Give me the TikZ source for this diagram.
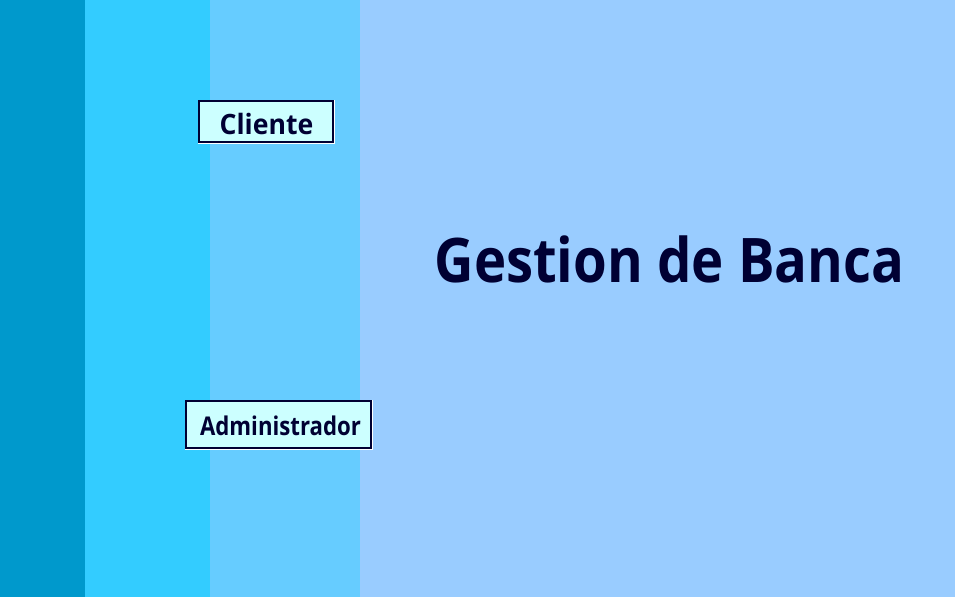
\documentclass[tikz,border=0pt]{standalone}
\usepackage{fontspec}
\usepackage{graphicx}
\setmainfont{Open Sans}
\definecolor{bandA}{HTML}{0099CC}
\definecolor{bandB}{HTML}{33CCFF}
\definecolor{bandC}{HTML}{66CCFF}
\definecolor{bandD}{HTML}{99CCFF}
\definecolor{btnfill}{HTML}{CCFFFF}
\definecolor{navy}{HTML}{000033}
\begin{document}
\begin{tikzpicture}[
  x=1pt, y=-1pt,
  button/.style={draw=navy, line width=2pt, fill=btnfill, text=navy, inner sep=0pt, outer sep=0pt, align=center, text depth=0pt},
  title/.style={text=navy, font=\bfseries\fontsize{61.5}{70}\selectfont, inner sep=0pt, anchor=base}
]
  \useasboundingbox (0,0) rectangle (955,597);
  % background bands
  \fill[bandA] (0,0) rectangle (85,597);
  \fill[bandB] (85,0) rectangle (210,597);
  \fill[bandC] (210,0) rectangle (360,597);
  \fill[bandD] (360,0) rectangle (955,597);
  % buttons
  \node[button, minimum width=134pt, minimum height=41pt, text height=25.6pt, font=\bfseries\fontsize{28}{32}\selectfont] (cliente) at (266,121.5) {\hspace{1pt}\scalebox{0.95}[1]{Cliente}};
  \node[button, minimum width=185pt, minimum height=47pt, text height=22.4pt, font=\bfseries\fontsize{25.8}{30}\selectfont] (admin) at (278.5,424.5) {\hspace{4pt}\scalebox{0.86}[1]{Administrador}};
  \draw[white, line width=1pt] ([xshift=1.5pt,yshift=1pt]cliente.north east) -- ([xshift=1.5pt,yshift=-1.5pt]cliente.south east) -- ([xshift=-1pt,yshift=-1.5pt]cliente.south west);
  \draw[white, line width=1pt] ([xshift=1.5pt,yshift=1pt]admin.north east) -- ([xshift=1.5pt,yshift=-1.5pt]admin.south east) -- ([xshift=-1pt,yshift=-1.5pt]admin.south west);
  % title
  \node[title] (titulo) at (669.5,282) {\scalebox{0.886}[1]{Gestion de Banca}};
\end{tikzpicture}
\end{document}
